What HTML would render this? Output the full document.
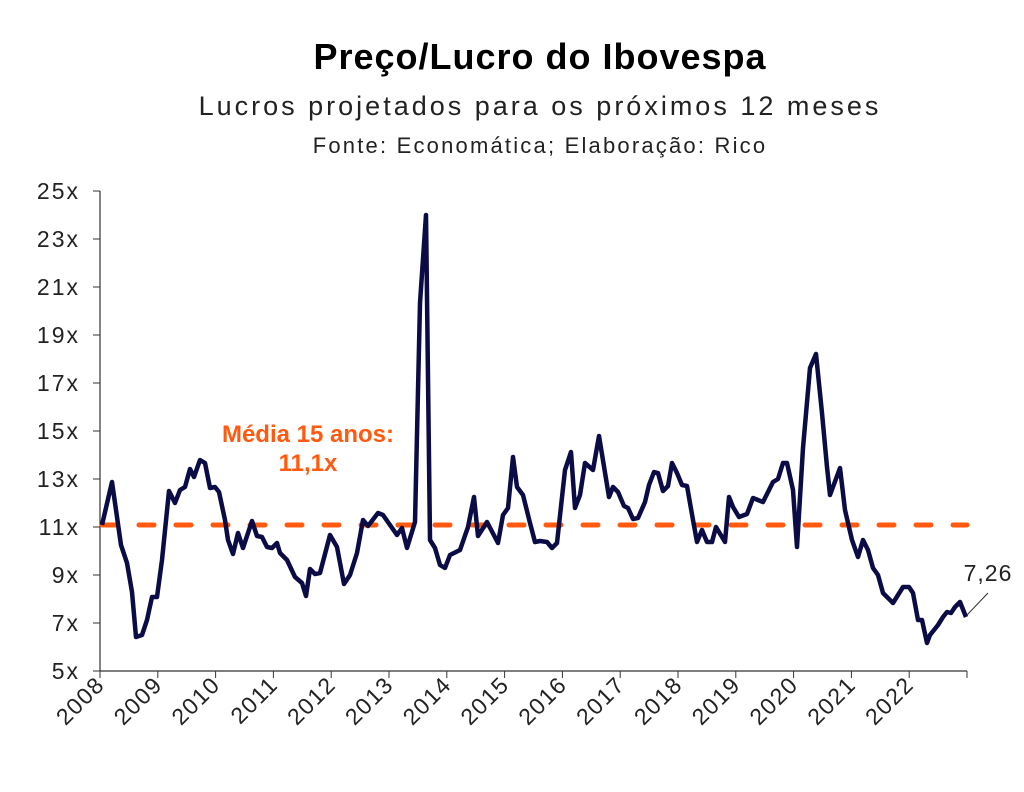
<!DOCTYPE html>
<html><head><meta charset="utf-8"><style>
body{margin:0;background:#fff;}
svg text{font-family:"Liberation Sans",sans-serif;}
</style></head><body>
<svg width="1024" height="787" viewBox="0 0 1024 787" xmlns="http://www.w3.org/2000/svg">
<text x="540" y="69" text-anchor="middle" font-size="36" font-weight="bold" fill="#000" letter-spacing="1">Preço/Lucro do Ibovespa</text>
<text x="540" y="115" text-anchor="middle" font-size="27" letter-spacing="3" fill="#222">Lucros projetados para os próximos 12 meses</text>
<text x="540" y="153" text-anchor="middle" font-size="22" letter-spacing="2.2" fill="#222">Fonte: Economática; Elaboração: Rico</text>
<g stroke="#333" stroke-width="1.2">
<line x1="100" y1="191" x2="100" y2="671"/>
<line x1="100" y1="671" x2="967" y2="671"/>
</g>
<g font-size="23" fill="#222" text-anchor="end" letter-spacing="2">
<text x="80" y="199">25x</text><text x="80" y="247">23x</text><text x="80" y="295">21x</text>
<text x="80" y="343">19x</text><text x="80" y="391">17x</text><text x="80" y="439">15x</text>
<text x="80" y="487">13x</text><text x="80" y="535">11x</text><text x="80" y="583">9x</text>
<text x="80" y="631">7x</text><text x="80" y="679">5x</text>
</g>
<g stroke="#333" stroke-width="1">
<line x1="93" y1="191" x2="100" y2="191"/><line x1="93" y1="239" x2="100" y2="239"/><line x1="93" y1="287" x2="100" y2="287"/><line x1="93" y1="335" x2="100" y2="335"/><line x1="93" y1="383" x2="100" y2="383"/><line x1="93" y1="431" x2="100" y2="431"/><line x1="93" y1="479" x2="100" y2="479"/><line x1="93" y1="527" x2="100" y2="527"/><line x1="93" y1="575" x2="100" y2="575"/><line x1="93" y1="623" x2="100" y2="623"/><line x1="93" y1="671" x2="100" y2="671"/>
<line x1="100" y1="671" x2="100" y2="678"/><line x1="157.8" y1="671" x2="157.8" y2="678"/><line x1="215.6" y1="671" x2="215.6" y2="678"/><line x1="273.4" y1="671" x2="273.4" y2="678"/><line x1="331.2" y1="671" x2="331.2" y2="678"/><line x1="389" y1="671" x2="389" y2="678"/><line x1="446.8" y1="671" x2="446.8" y2="678"/><line x1="504.6" y1="671" x2="504.6" y2="678"/><line x1="562.4" y1="671" x2="562.4" y2="678"/><line x1="620.2" y1="671" x2="620.2" y2="678"/><line x1="678" y1="671" x2="678" y2="678"/><line x1="735.8" y1="671" x2="735.8" y2="678"/><line x1="793.6" y1="671" x2="793.6" y2="678"/><line x1="851.4" y1="671" x2="851.4" y2="678"/><line x1="909.2" y1="671" x2="909.2" y2="678"/><line x1="967" y1="671" x2="967" y2="678"/>
</g>
<g font-size="23" fill="#222" text-anchor="end" letter-spacing="1.5">
<text transform="translate(106,686) rotate(-45)">2008</text>
<text transform="translate(163.8,686) rotate(-45)">2009</text>
<text transform="translate(221.6,686) rotate(-45)">2010</text>
<text transform="translate(279.4,686) rotate(-45)">2011</text>
<text transform="translate(337.2,686) rotate(-45)">2012</text>
<text transform="translate(395,686) rotate(-45)">2013</text>
<text transform="translate(452.8,686) rotate(-45)">2014</text>
<text transform="translate(510.6,686) rotate(-45)">2015</text>
<text transform="translate(568.4,686) rotate(-45)">2016</text>
<text transform="translate(626.2,686) rotate(-45)">2017</text>
<text transform="translate(684,686) rotate(-45)">2018</text>
<text transform="translate(741.8,686) rotate(-45)">2019</text>
<text transform="translate(799.6,686) rotate(-45)">2020</text>
<text transform="translate(857.4,686) rotate(-45)">2021</text>
<text transform="translate(915.2,686) rotate(-45)">2022</text>
</g>
<line x1="102" y1="525" x2="967" y2="525" stroke="#ff5a0f" stroke-width="5" stroke-dasharray="15 22" stroke-linecap="round"/>
<text x="308" y="442" text-anchor="middle" font-size="24" font-weight="bold" fill="#ff5a0f">Média 15 anos:</text>
<text x="308" y="471" text-anchor="middle" font-size="24" font-weight="bold" fill="#ff5a0f">11,1x</text>
<polyline fill="none" stroke="#0b0b45" stroke-width="4.5" stroke-linejoin="round" points="
102,525 112,482 121,545 127,563 132,592 136,637 142,635 147,620 152,597 157,597 162,560 169,491 175,503 180,490 185,487 190,469 194,477 200,460 205,463 210,488 215,487 219,492 225,520 228,540 233,554 238,533 243,548 252,521 257,536 262,537 267,547 272,548 277,543 280,553 287,560 295,577 302,583 306,596 310,569 315,574 320,573 330,535 337,547 344,584 350,575 357,553 363,520 368,526 378,513 383,515 390,525 397,535 402,528 407,548 415,522 420,303 426,215 430,540 435,548 440,565 445,568 450,555 460,550 468,527 474,497 478,536 487,522 498,543 503,515 508,508 513,457 517,487 523,495 530,523 535,542 540,541 547,542 552,548 557,543 565,470 571,452 575,508 580,495 585,463 593,470 599,436 609,497 613,487 618,492 624,506 628,508 633,519 638,518 645,502 649,485 654,472 658,473 663,491 668,486 672,463 677,473 682,485 687,486 693,520 697,542 702,530 707,542 712,542 716,527 725,542 729,497 733,507 739,517 747,514 753,498 763,502 773,482 778,479 783,463 787,463 793,490 797,547 803,448 810,368 816,354 822,413 827,467 830,495 840,468 845,510 852,540 858,557 863,540 868,550 873,568 878,575 883,593 893,603 903,587 909,587 913,593 918,620 922,620 927,643 930,635 938,625 943,617 947,612 951,613 955,607 960,602 966,617"/>
<line x1="967" y1="615" x2="988" y2="593" stroke="#333" stroke-width="1"/>
<text x="988" y="581" text-anchor="middle" font-size="23" fill="#222" letter-spacing="1">7,26</text>
</svg>
</body></html>
